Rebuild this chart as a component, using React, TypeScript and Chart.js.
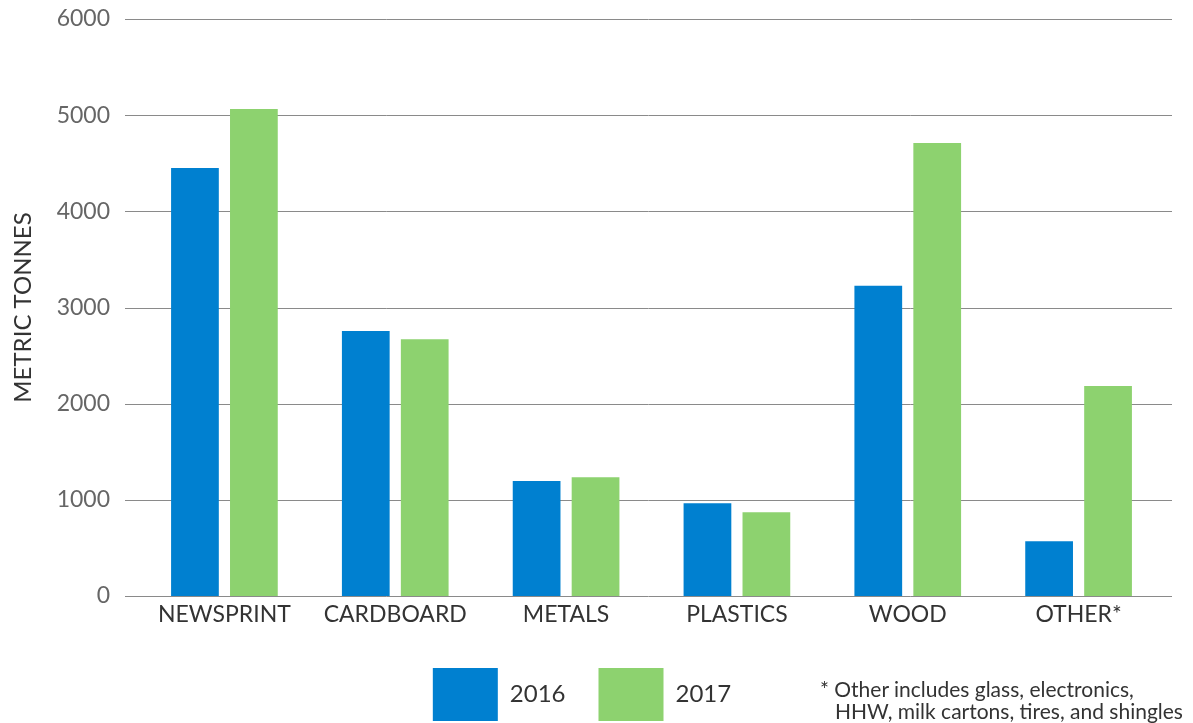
import React, { useEffect, useRef } from "react";
import { Chart, registerables } from "chart.js";

Chart.register(...registerables);

const categories = ["NEWSPRINT", "CARDBOARD", "METALS", "PLASTICS", "WOOD", "OTHER*"];
const seriesLabels = ["2016", "2017"];
const values2016 = [4450, 2755, 1195, 965, 3225, 570];
const values2017 = [5065, 2670, 1235, 870, 4710, 2185];
const yMin = 0;
const yMax = 6000;
const yStep = 1000;
const yTitle = "METRIC TONNES";
const footnoteLines = ["* Other includes glass, electronics,", "HHW, milk cartons, tires, and shingles"];

const FONT = "Lato, 'Open Sans', sans-serif";

const gridPlugin = {
  id: "extendedGrid",
  beforeDatasetsDraw(chart: any) {
    const { ctx, chartArea, scales } = chart;
    const y = scales.y;
    ctx.save();
    ctx.strokeStyle = "#8a8a8a";
    ctx.lineWidth = 1;
    y.ticks.forEach((t: any) => {
      const py = Math.round(y.getPixelForValue(t.value)) + 0.5;
      ctx.beginPath();
      ctx.moveTo(chartArea.left - 14, py);
      ctx.lineTo(chartArea.right + 8, py);
      ctx.stroke();
    });
    ctx.restore();
  },
};

export default function App() {
  const ref = useRef<HTMLCanvasElement | null>(null);
  useEffect(() => {
    document.body.style.margin = "0";
    const chart = new Chart(ref.current as HTMLCanvasElement, {
      type: "bar",
      data: {
        labels: categories,
        datasets: [
          { label: seriesLabels[0], data: values2016, backgroundColor: "#0080d0" },
          { label: seriesLabels[1], data: values2017, backgroundColor: "#8dd26f" },
        ],
      },
      options: {
        animation: false,
        responsive: true,
        maintainAspectRatio: false,
        layout: { padding: { top: 19, right: 29, left: 0, bottom: -8 } },
        datasets: { bar: { categoryPercentage: 0.69, barPercentage: 0.81 } } as any,
        scales: {
          x: {
            grid: { display: false },
            border: { display: false },
            ticks: { color: "#333", font: { family: FONT, size: 23 }, padding: -3, maxRotation: 0 },
            afterFit(scale: any) {
              scale.height = 39;
            },
          },
          y: {
            min: yMin,
            max: yMax,
            grid: { display: false },
            border: { display: false },
            ticks: {
              stepSize: yStep,
              color: "#666",
              font: { family: FONT, size: 23 },
              padding: 21,
              callback: (v: any) => String(v),
            },
            title: { display: true, text: yTitle, color: "#333", font: { family: FONT, size: 24 }, padding: { top: 9, bottom: 0 } },
            afterFit(scale: any) {
              scale.width = 139;
              scale.paddingTop = 0;
              scale.paddingBottom = 0;
            },
          },
        },
        plugins: {
          legend: {
            position: "bottom",
            labels: {
              boxWidth: 65,
              boxHeight: 53,
              padding: 33,
              color: "#333",
              font: { family: FONT, size: 24 },
            },
          },
          tooltip: { enabled: false },
        },
      },
      plugins: [gridPlugin],
    });
    return () => chart.destroy();
  }, []);
  return (
    <div style={{ position: "absolute", left: 0, top: 0, width: 1193, height: 723 }}>
      <canvas ref={ref} />
      <div
        style={{
          position: "absolute",
          left: 820,
          top: 678,
          fontFamily: FONT,
          fontSize: 21,
          lineHeight: "22px",
          color: "#333",
          whiteSpace: "nowrap",
        }}
      >
        <div>{footnoteLines[0]}</div>
        <div style={{ paddingLeft: 15 }}>{footnoteLines[1]}</div>
      </div>
    </div>
  );
}
